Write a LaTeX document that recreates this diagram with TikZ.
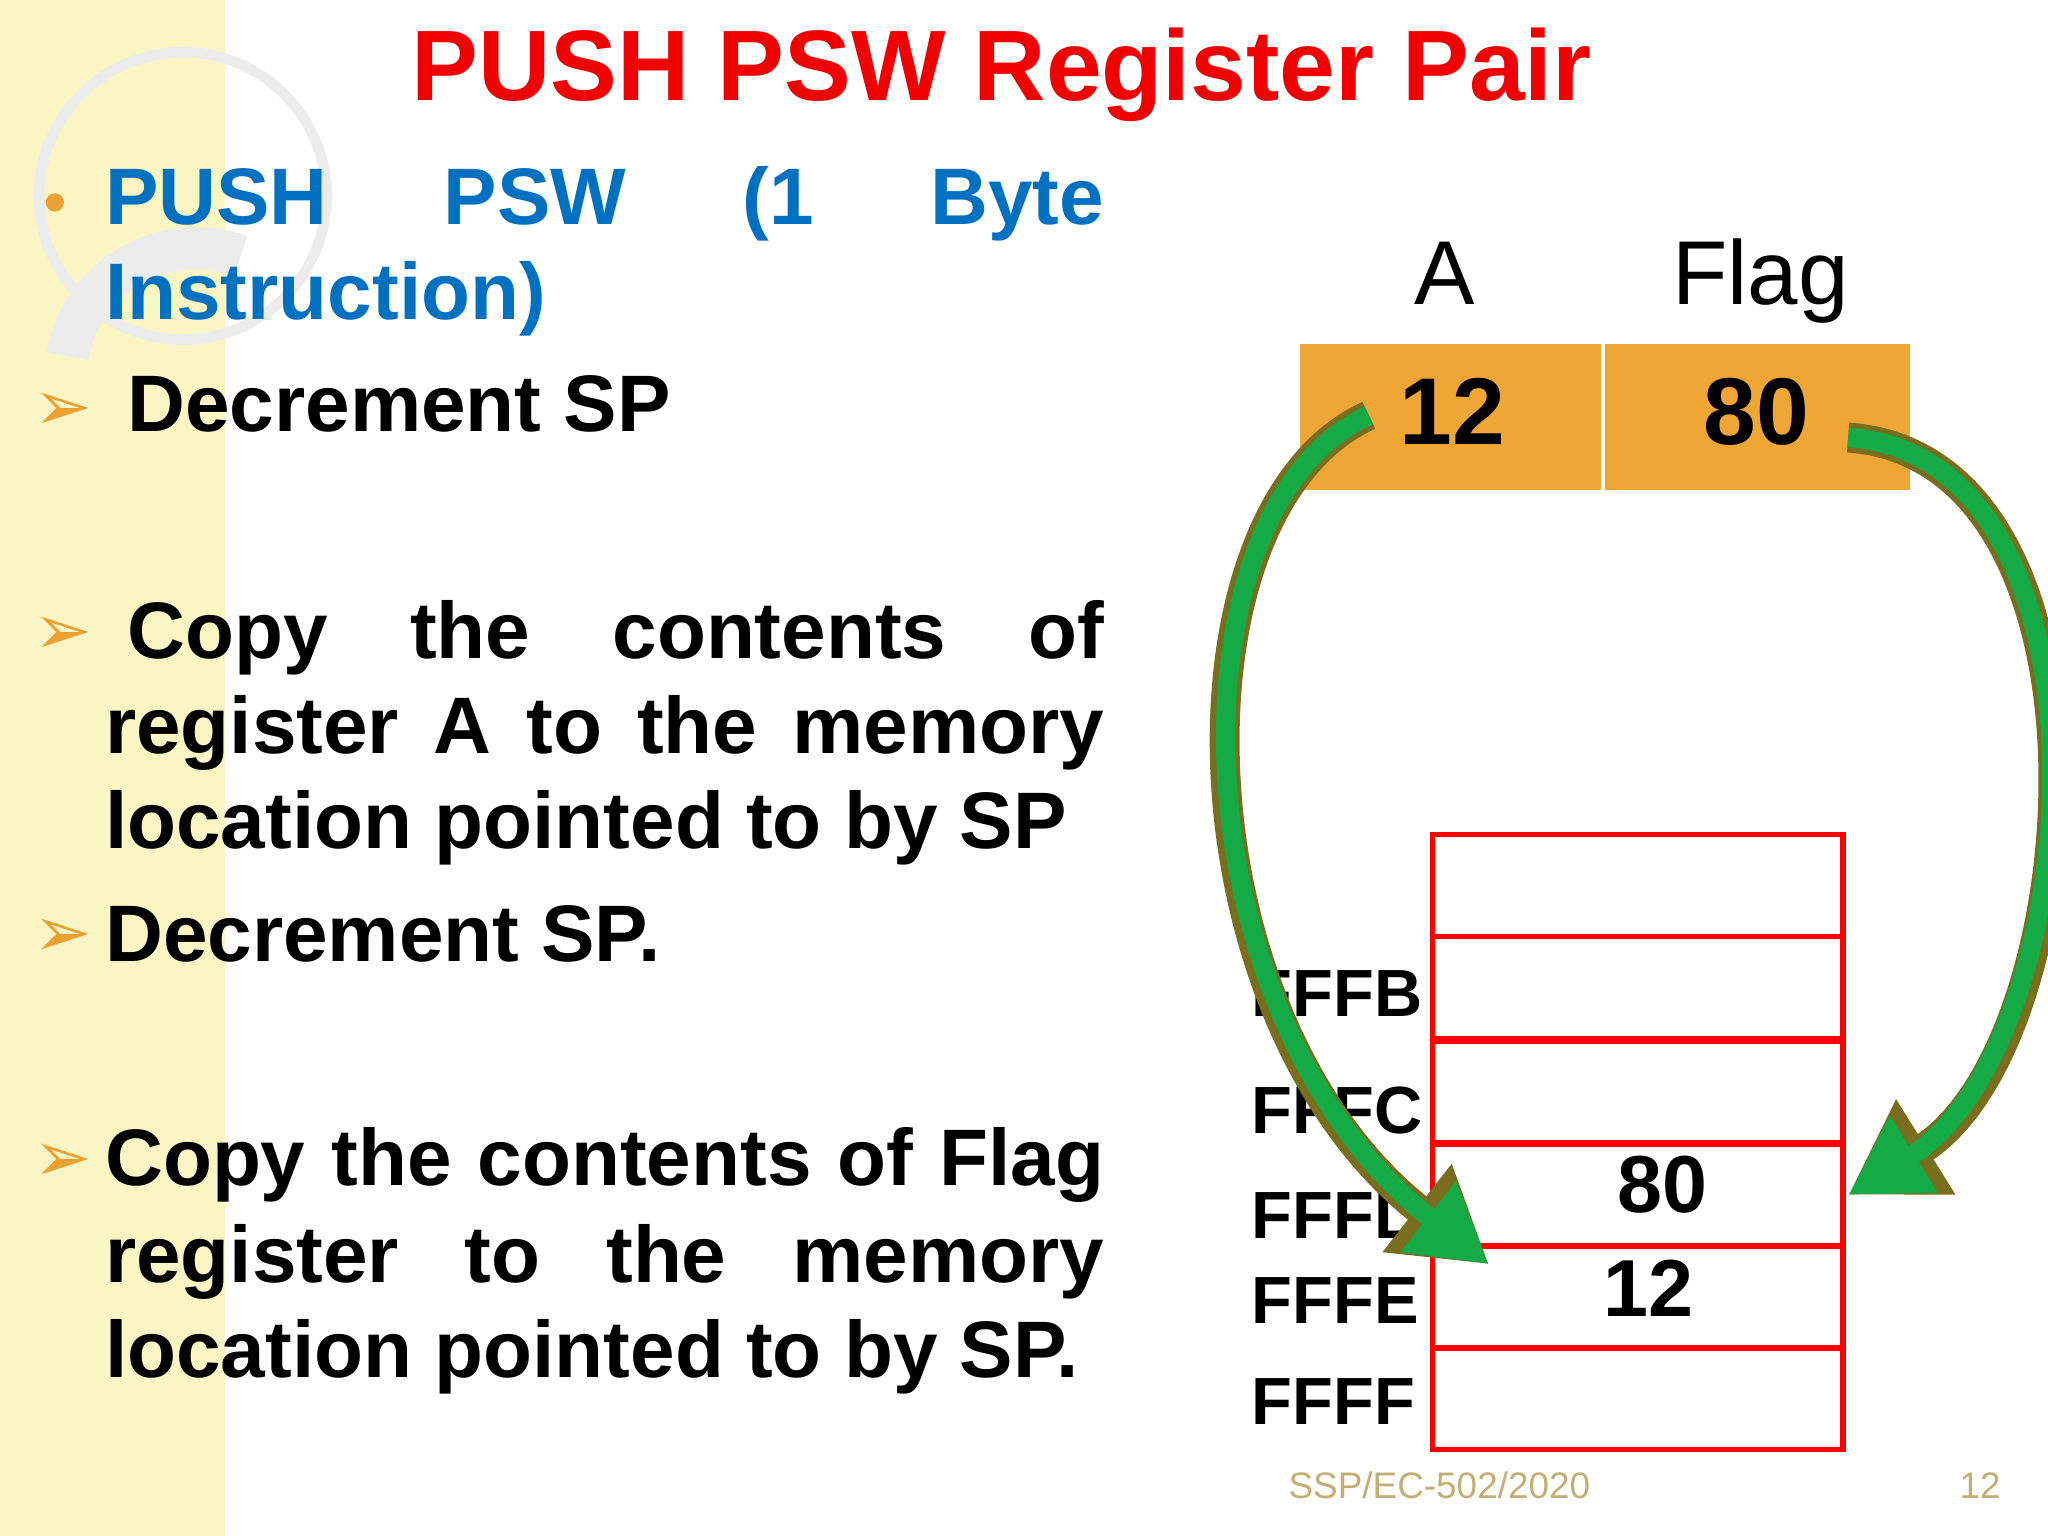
\documentclass[tikz,border=0pt]{standalone}
\usepackage{fontspec}
\setmainfont{Liberation Sans}
\newfontfamily\djv{DejaVu Sans}
\usetikzlibrary{arrows.meta}
\definecolor{strip}{RGB}{250,246,196}
\definecolor{ttl}{RGB}{240,0,0}
\definecolor{blu}{RGB}{0,112,192}
\definecolor{org}{RGB}{240,166,52}
\definecolor{bul}{RGB}{235,160,50}
\definecolor{grn}{RGB}{20,170,70}
\definecolor{olv}{RGB}{120,110,30}
\definecolor{foot}{RGB}{195,175,115}
\begin{document}
\begin{tikzpicture}[x=0.013061cm,y=-0.013061cm,
  body/.style={anchor=base west,inner sep=0,font=\fontsize{22.8}{27}\selectfont\bfseries},
  bmark/.style={anchor=center,inner sep=0,text=bul,font=\djv\fontsize{20}{20}\selectfont},
  lab/.style={anchor=base west,inner sep=0,font=\fontsize{19}{20}\selectfont\bfseries},
  cell/.style={draw=red,line width=1.5pt},
  reg/.style={fill=org,draw=none},
  flow/.style={line width=8.5pt,draw=olv},
  flowin/.style={line width=5.5pt,draw=grn}]
\useasboundingbox (0,0) rectangle (1568,1176);
\fill[white] (0,0) rectangle (1568,1176);
\fill[strip] (0,0) rectangle (172,1176);
\draw[gray!15,line width=3pt] (140,150) circle (110);
\draw[gray!15,line width=12pt] (150,290) ++(190:100) arc (190:290:100);
% title
\node[text=ttl,font=\fontsize{28.5}{30}\selectfont\bfseries,anchor=base] (title) at (767,77) {PUSH PSW Register Pair};
% blue bullet
\fill[bul] (42,155) circle (7);
\node[body,text=blu] (b1) at (80,172) {\makebox[9.99cm][s]{PUSH PSW (1 Byte}};
\node[body,text=blu] (b2) at (80,245) {Instruction)};
\node[bmark] (m1) at (48,315) {➢};
\node[body] (t1) at (97,330) {Decrement SP};
\node[bmark] (m2) at (48,487) {➢};
\node[body] (t2) at (97,504) {\makebox[9.77cm][s]{Copy the contents of}};
\node[body] (t3) at (80,577) {\makebox[9.99cm][s]{register A to the memory}};
\node[body] (t4) at (80,650) {location pointed to by SP};
\node[bmark] (m3) at (48,718) {➢};
\node[body] (t5) at (80,736) {Decrement SP.};
\node[bmark] (m4) at (48,890) {➢};
\node[body] (t6) at (80,908) {\makebox[9.99cm][s]{Copy the contents of Flag}};
\node[body] (t7) at (80,982) {\makebox[9.99cm][s]{register to the memory}};
\node[body] (t8) at (80,1055) {location pointed to by SP.};
% registers
\node[font=\fontsize{25.8}{26}\selectfont,anchor=base] (A) at (1106,233) {A};
\node[font=\fontsize{25.8}{26}\selectfont,anchor=base] (F) at (1348,233) {Flag};
\fill[reg] (995,263) rectangle (1226,375);
\fill[reg] (1229,263) rectangle (1462,375);
\node[font=\fontsize{27}{27}\selectfont\bfseries,anchor=base] (r1) at (1112,340) {12};
\node[font=\fontsize{27}{27}\selectfont\bfseries,anchor=base] (r2) at (1345,340) {80};
% memory
\foreach \y in {639,717,797,876,954,1032} \draw[cell] (1097,\y) rectangle (1411,\y+78);
\draw[cell] (1097,639) rectangle (1411,1110);
\node[font=\fontsize{23}{23}\selectfont\bfseries,anchor=base] (v1) at (1273,928) {80};
\node[font=\fontsize{23}{23}\selectfont\bfseries,anchor=base] (v2) at (1262,1008) {12};
\node[lab] (l1) at (958,778) {FFFB};
\node[lab] (l2) at (958,868) {FFFC};
\node[lab] (l3) at (958,948) {FFFD};
\node[lab] (l4) at (958,1013) {FFFE};
\node[lab] (l5) at (958,1091) {FFFF};
% arrows
\coordinate (s1) at (1048,318);
\coordinate (e1) at (1140,968);
\coordinate (s2) at (1415,335);
\coordinate (e2) at (1415,915);
\draw[flow,-{Triangle[length=26pt,width=30pt]}] (s1) .. controls (890,390) and (900,780) .. (e1);
\draw[flowin,-{Triangle[length=22pt,width=24pt]}] (s1) .. controls (890,390) and (900,780) .. (e1);
\draw[flow,-{Triangle[length=26pt,width=30pt]}] (s2) .. controls (1630,350) and (1600,800) .. (e2);
\draw[flowin,-{Triangle[length=22pt,width=24pt]}] (s2) .. controls (1630,350) and (1600,800) .. (e2);
% footer
\node[text=foot,font=\fontsize{10.5}{11}\selectfont,anchor=base] (ft) at (1102,1147) {SSP/EC-502/2020};
\node[text=foot,font=\fontsize{10.5}{11}\selectfont,anchor=base] (pg) at (1516,1147) {12};
\end{tikzpicture}
\end{document}
